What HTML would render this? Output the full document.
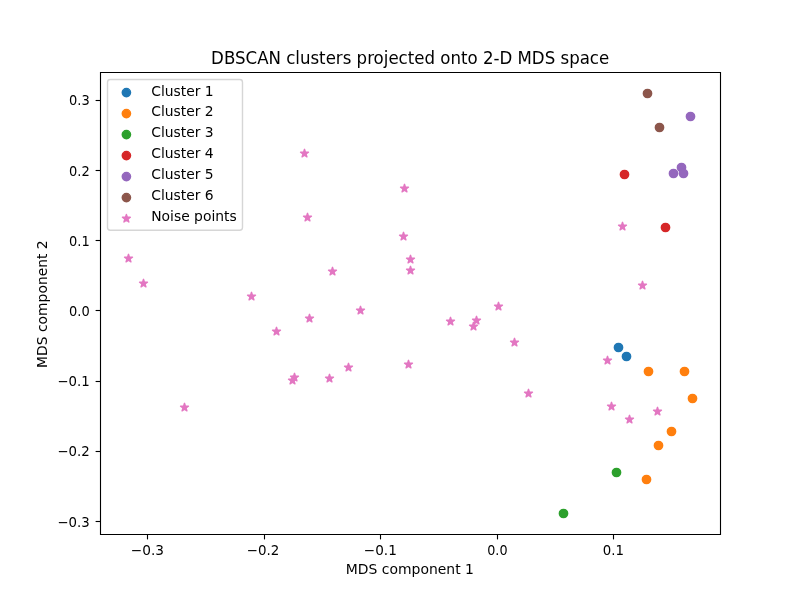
<!DOCTYPE html>
<html lang="en">
<head>
<meta charset="utf-8">
<title>DBSCAN clusters projected onto 2-D MDS space</title>
<style>
html,body{margin:0;padding:0;background:#fff;overflow:hidden}
svg{display:block}
svg text{font-family:"DejaVu Sans","Liberation Sans",sans-serif;font-size:13.889px;fill:#000}
.t{stroke:#000;stroke-width:1.11;fill:none}
.sp{stroke:#000;stroke-width:1.11;fill:none;stroke-linecap:square}
.m{text-anchor:middle}
.e{text-anchor:end}
.pts g{stroke-width:1.389;stroke-linejoin:round}
</style>
</head>
<body>
<svg width="800" height="600" viewBox="0 0 800 600">
<rect width="800" height="600" fill="#fff"/>
<g class="pts">
<g fill="#1f77b4" stroke="#1f77b4"><circle cx="618.5" cy="347.5" r="4.17"/><circle cx="626.5" cy="356.5" r="4.17"/></g>
<g fill="#ff7f0e" stroke="#ff7f0e"><circle cx="648.5" cy="371.5" r="4.17"/><circle cx="684.5" cy="371.5" r="4.17"/><circle cx="692.5" cy="398.5" r="4.17"/><circle cx="671.5" cy="431.5" r="4.17"/><circle cx="658.5" cy="445.5" r="4.17"/><circle cx="646.5" cy="479.5" r="4.17"/></g>
<g fill="#2ca02c" stroke="#2ca02c"><circle cx="616.5" cy="472.5" r="4.17"/><circle cx="563.5" cy="513.5" r="4.17"/></g>
<g fill="#d62728" stroke="#d62728"><circle cx="624.5" cy="174.5" r="4.17"/><circle cx="665.5" cy="227.5" r="4.17"/></g>
<g fill="#9467bd" stroke="#9467bd"><circle cx="690.5" cy="116.5" r="4.17"/><circle cx="681.5" cy="167.5" r="4.17"/><circle cx="673.5" cy="173.5" r="4.17"/><circle cx="683.5" cy="173.5" r="4.17"/></g>
<g fill="#8c564b" stroke="#8c564b"><circle cx="647.5" cy="93.5" r="4.17"/><circle cx="659.5" cy="127.5" r="4.17"/></g>
<g fill="#e377c2" stroke="#e377c2"><path d="M128.5 254.33L127.56 257.21L124.54 257.21L126.99 258.99L126.05 261.87L128.5 260.09L130.95 261.87L130.01 258.99L132.46 257.21L129.44 257.21Z"/>
<path d="M143.5 279.33L142.56 282.21L139.54 282.21L141.99 283.99L141.05 286.87L143.5 285.09L145.95 286.87L145.01 283.99L147.46 282.21L144.44 282.21Z"/>
<path d="M184.5 403.33L183.56 406.21L180.54 406.21L182.99 407.99L182.05 410.87L184.5 409.09L186.95 410.87L186.01 407.99L188.46 406.21L185.44 406.21Z"/>
<path d="M251.5 292.33L250.56 295.21L247.54 295.21L249.99 296.99L249.05 299.87L251.5 298.09L253.95 299.87L253.01 296.99L255.46 295.21L252.44 295.21Z"/>
<path d="M276.5 327.33L275.56 330.21L272.54 330.21L274.99 331.99L274.05 334.87L276.5 333.09L278.95 334.87L278.01 331.99L280.46 330.21L277.44 330.21Z"/>
<path d="M294.5 373.33L293.56 376.21L290.54 376.21L292.99 377.99L292.05 380.87L294.5 379.09L296.95 380.87L296.01 377.99L298.46 376.21L295.44 376.21Z"/>
<path d="M292.5 376.33L291.56 379.21L288.54 379.21L290.99 380.99L290.05 383.87L292.5 382.09L294.95 383.87L294.01 380.99L296.46 379.21L293.44 379.21Z"/>
<path d="M304.5 149.33L303.56 152.21L300.54 152.21L302.99 153.99L302.05 156.87L304.5 155.09L306.95 156.87L306.01 153.99L308.46 152.21L305.44 152.21Z"/>
<path d="M307.5 213.33L306.56 216.21L303.54 216.21L305.99 217.99L305.05 220.87L307.5 219.09L309.95 220.87L309.01 217.99L311.46 216.21L308.44 216.21Z"/>
<path d="M309.5 314.33L308.56 317.21L305.54 317.21L307.99 318.99L307.05 321.87L309.5 320.09L311.95 321.87L311.01 318.99L313.46 317.21L310.44 317.21Z"/>
<path d="M329.5 374.33L328.56 377.21L325.54 377.21L327.99 378.99L327.05 381.87L329.5 380.09L331.95 381.87L331.01 378.99L333.46 377.21L330.44 377.21Z"/>
<path d="M332.5 267.33L331.56 270.21L328.54 270.21L330.99 271.99L330.05 274.87L332.5 273.09L334.95 274.87L334.01 271.99L336.46 270.21L333.44 270.21Z"/>
<path d="M348.5 363.33L347.56 366.21L344.54 366.21L346.99 367.99L346.05 370.87L348.5 369.09L350.95 370.87L350.01 367.99L352.46 366.21L349.44 366.21Z"/>
<path d="M360.5 306.33L359.56 309.21L356.54 309.21L358.99 310.99L358.05 313.87L360.5 312.09L362.95 313.87L362.01 310.99L364.46 309.21L361.44 309.21Z"/>
<path d="M404.5 184.33L403.56 187.21L400.54 187.21L402.99 188.99L402.05 191.87L404.5 190.09L406.95 191.87L406.01 188.99L408.46 187.21L405.44 187.21Z"/>
<path d="M403.5 232.33L402.56 235.21L399.54 235.21L401.99 236.99L401.05 239.87L403.5 238.09L405.95 239.87L405.01 236.99L407.46 235.21L404.44 235.21Z"/>
<path d="M410.5 255.33L409.56 258.21L406.54 258.21L408.99 259.99L408.05 262.87L410.5 261.09L412.95 262.87L412.01 259.99L414.46 258.21L411.44 258.21Z"/>
<path d="M410.5 266.33L409.56 269.21L406.54 269.21L408.99 270.99L408.05 273.87L410.5 272.09L412.95 273.87L412.01 270.99L414.46 269.21L411.44 269.21Z"/>
<path d="M408.5 360.33L407.56 363.21L404.54 363.21L406.99 364.99L406.05 367.87L408.5 366.09L410.95 367.87L410.01 364.99L412.46 363.21L409.44 363.21Z"/>
<path d="M450.5 317.33L449.56 320.21L446.54 320.21L448.99 321.99L448.05 324.87L450.5 323.09L452.95 324.87L452.01 321.99L454.46 320.21L451.44 320.21Z"/>
<path d="M476.5 316.33L475.56 319.21L472.54 319.21L474.99 320.99L474.05 323.87L476.5 322.09L478.95 323.87L478.01 320.99L480.46 319.21L477.44 319.21Z"/>
<path d="M473.5 322.33L472.56 325.21L469.54 325.21L471.99 326.99L471.05 329.87L473.5 328.09L475.95 329.87L475.01 326.99L477.46 325.21L474.44 325.21Z"/>
<path d="M498.5 302.33L497.56 305.21L494.54 305.21L496.99 306.99L496.05 309.87L498.5 308.09L500.95 309.87L500.01 306.99L502.46 305.21L499.44 305.21Z"/>
<path d="M514.5 338.33L513.56 341.21L510.54 341.21L512.99 342.99L512.05 345.87L514.5 344.09L516.95 345.87L516.01 342.99L518.46 341.21L515.44 341.21Z"/>
<path d="M528.5 389.33L527.56 392.21L524.54 392.21L526.99 393.99L526.05 396.87L528.5 395.09L530.95 396.87L530.01 393.99L532.46 392.21L529.44 392.21Z"/>
<path d="M622.5 222.33L621.56 225.21L618.54 225.21L620.99 226.99L620.05 229.87L622.5 228.09L624.95 229.87L624.01 226.99L626.46 225.21L623.44 225.21Z"/>
<path d="M642.5 281.33L641.56 284.21L638.54 284.21L640.99 285.99L640.05 288.87L642.5 287.09L644.95 288.87L644.01 285.99L646.46 284.21L643.44 284.21Z"/>
<path d="M607.5 356.33L606.56 359.21L603.54 359.21L605.99 360.99L605.05 363.87L607.5 362.09L609.95 363.87L609.01 360.99L611.46 359.21L608.44 359.21Z"/>
<path d="M611.5 402.33L610.56 405.21L607.54 405.21L609.99 406.99L609.05 409.87L611.5 408.09L613.95 409.87L613.01 406.99L615.46 405.21L612.44 405.21Z"/>
<path d="M657.5 407.33L656.56 410.21L653.54 410.21L655.99 411.99L655.05 414.87L657.5 413.09L659.95 414.87L659.01 411.99L661.46 410.21L658.44 410.21Z"/>
<path d="M629.5 415.33L628.56 418.21L625.54 418.21L627.99 419.99L627.05 422.87L629.5 421.09L631.95 422.87L631.01 419.99L633.46 418.21L630.44 418.21Z"/></g>
</g>
<g>
<path class="t" d="M147.5 534.5v4.9"/><text class="m" x="147.4" y="555" textLength="33.25" lengthAdjust="spacingAndGlyphs">−0.3</text>
<path class="t" d="M264.5 534.5v4.9"/><text class="m" x="263.1" y="555" textLength="32.6" lengthAdjust="spacingAndGlyphs">−0.2</text>
<path class="t" d="M380.5 534.5v4.9"/><text class="m" x="380.3" y="555" textLength="33.05" lengthAdjust="spacingAndGlyphs">−0.1</text>
<path class="t" d="M497.5 534.5v4.9"/><text class="m" x="497.4" y="555" textLength="20.3" lengthAdjust="spacingAndGlyphs">0.0</text>
<path class="t" d="M613.5 534.5v4.9"/><text class="m" x="613.4" y="555" textLength="21.2" lengthAdjust="spacingAndGlyphs">0.1</text>
<text class="m" x="409.9" y="574" textLength="128.1" lengthAdjust="spacingAndGlyphs">MDS component 1</text>
</g>
<g>
<path class="t" d="M100.5 521.5h-4.9"/><text class="e" x="89.8" y="526.5" textLength="32.35" lengthAdjust="spacingAndGlyphs">−0.3</text>
<path class="t" d="M100.5 451.5h-4.9"/><text class="e" x="89.8" y="455.8" textLength="32.35" lengthAdjust="spacingAndGlyphs">−0.2</text>
<path class="t" d="M100.5 381.5h-4.9"/><text class="e" x="89.8" y="386.3" textLength="32.35" lengthAdjust="spacingAndGlyphs">−0.1</text>
<path class="t" d="M100.5 310.5h-4.9"/><text class="e" x="89.8" y="315.8" textLength="20.7" lengthAdjust="spacingAndGlyphs">0.0</text>
<path class="t" d="M100.5 240.5h-4.9"/><text class="e" x="89.8" y="245.8" textLength="20.7" lengthAdjust="spacingAndGlyphs">0.1</text>
<path class="t" d="M100.5 170.5h-4.9"/><text class="e" x="89.8" y="175.8" textLength="20.7" lengthAdjust="spacingAndGlyphs">0.2</text>
<path class="t" d="M100.5 100.5h-4.9"/><text class="e" x="89.8" y="105" textLength="20.7" lengthAdjust="spacingAndGlyphs">0.3</text>
<text class="m" x="47.1" y="304.1" transform="rotate(-90 47.1 304.1)">MDS component 2</text>
</g>
<path class="sp" d="M100.5 534.5V72.5M720.5 534.5V72.5M100.5 534.5H720.5M100.5 72.5H720.5"/>
<text class="m" transform="translate(410.15 63.9) scale(1 1.07)" textLength="398.1" lengthAdjust="spacingAndGlyphs" style="font-size:16.667px">DBSCAN clusters projected onto 2-D MDS space</text>
<g>
<path d="M110.3 230.25H239.7Q242.5 230.25 242.5 227.45V82.3Q242.5 79.5 239.7 79.5H110.3Q107.5 79.5 107.5 82.3V227.45Q107.5 230.25 110.3 230.25Z" fill="#fff" stroke="#ccc" stroke-width="1.389" opacity=".8"/>
<g class="pts">
<g fill="#1f77b4" stroke="#1f77b4"><circle cx="126.4" cy="92.6" r="4.17"/></g>
<g fill="#ff7f0e" stroke="#ff7f0e"><circle cx="126.4" cy="113.6" r="4.17"/></g>
<g fill="#2ca02c" stroke="#2ca02c"><circle cx="126.4" cy="134.6" r="4.17"/></g>
<g fill="#d62728" stroke="#d62728"><circle cx="126.4" cy="155.6" r="4.17"/></g>
<g fill="#9467bd" stroke="#9467bd"><circle cx="126.4" cy="176.6" r="4.17"/></g>
<g fill="#8c564b" stroke="#8c564b"><circle cx="126.4" cy="197.6" r="4.17"/></g>
<g fill="#e377c2" stroke="#e377c2"><path d="M126.4 214.43L125.46 217.31L122.44 217.31L124.89 219.09L123.95 221.97L126.4 220.19L128.85 221.97L127.91 219.09L130.36 217.31L127.34 217.31Z"/></g>
</g>
<text x="151.2" y="96">Cluster 1</text>
<text x="151.2" y="116">Cluster 2</text>
<text x="151.2" y="137">Cluster 3</text>
<text x="151.2" y="158">Cluster 4</text>
<text x="151.2" y="179">Cluster 5</text>
<text x="151.2" y="200">Cluster 6</text>
<text x="151.2" y="220.7">Noise points</text>
</g>
</svg>
</body>
</html>
